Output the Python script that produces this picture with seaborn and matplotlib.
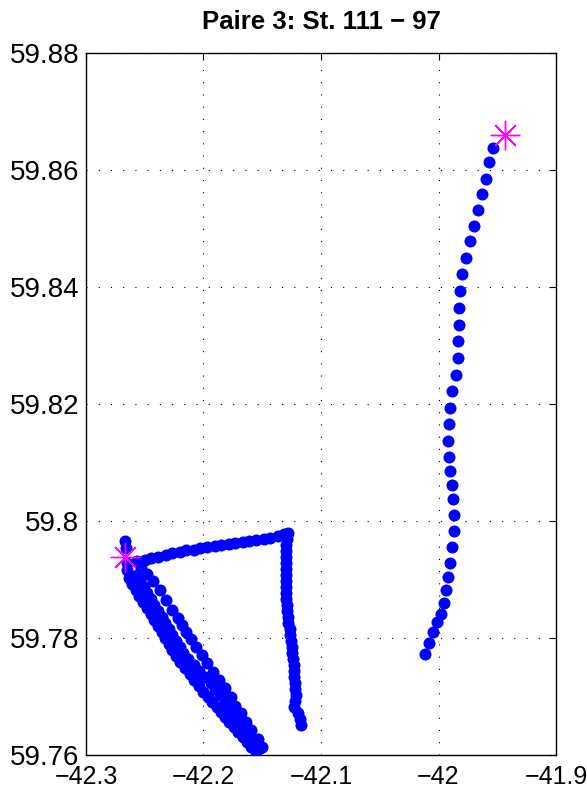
import numpy as np
import pandas as pd
import matplotlib
matplotlib.use("Agg")
import matplotlib.pyplot as plt
import seaborn as sns

# ---- data (lon, lat) ----
# east track, station 97 side
east_lon = [-41.9532, -41.9572, -41.9600, -41.9634, -41.9668, -41.9700, -41.9736, -41.9768,
            -41.9802, -41.9821, -41.9827, -41.9827, -41.9830, -41.9838, -41.9855, -41.9883,
            -41.9900, -41.9912, -41.9917, -41.9912, -41.9898, -41.9883, -41.9875, -41.9872,
            -41.9872, -41.9883, -41.9898, -41.9915, -41.9932, -41.9949, -41.9980, -42.0011,
            -42.0049, -42.0083, -42.0119]
east_lat = [59.8638, 59.8613, 59.8585, 59.8559, 59.8532, 59.8504, 59.8478, 59.8450,
            59.8422, 59.8394, 59.8364, 59.8335, 59.8307, 59.8279, 59.8250, 59.8222,
            59.8194, 59.8165, 59.8137, 59.8109, 59.8086, 59.8062, 59.8037, 59.8011,
            59.7983, 59.7955, 59.7929, 59.7905, 59.7882, 59.7860, 59.7841, 59.7827,
            59.7811, 59.7791, 59.7773]

# west loop near station 111: start points around the star
start_lon = [-42.2668, -42.2660, -42.2655, -42.2647]
start_lat = [59.7966, 59.7954, 59.7928, 59.7916]

# leg going east along the top
top_lon = [-42.2562, -42.2502, -42.2443, -42.2383, -42.2323, -42.2264, -42.2204, -42.2145,
           -42.2085, -42.2026, -42.1966, -42.1906, -42.1847, -42.1787, -42.1728, -42.1668,
           -42.1609, -42.1549, -42.1489, -42.1430, -42.1370, -42.1311, -42.1285]
top_lat = [59.7932, 59.7934, 59.7937, 59.7939, 59.7942, 59.7945, 59.7947, 59.7950,
           59.7951, 59.7954, 59.7956, 59.7957, 59.7959, 59.7961, 59.7962, 59.7964,
           59.7966, 59.7967, 59.7969, 59.7971, 59.7974, 59.7978, 59.7980]

# leg going south on the east side of the loop
south_lon = [-42.1289, -42.1294, -42.1298, -42.1302, -42.1302, -42.1302, -42.1302, -42.1302,
             -42.1302, -42.1300, -42.1295, -42.1291, -42.1288, -42.1283, -42.1277, -42.1268,
             -42.1260, -42.1254, -42.1249, -42.1244, -42.1239, -42.1234, -42.1231, -42.1227,
             -42.1224, -42.1220, -42.1217, -42.1221, -42.1226, -42.1196, -42.1175, -42.1166]
south_lat = [59.7969, 59.7959, 59.7949, 59.7939, 59.7928, 59.7918, 59.7908, 59.7897,
             59.7887, 59.7877, 59.7867, 59.7856, 59.7846, 59.7836, 59.7826, 59.7815,
             59.7805, 59.7795, 59.7785, 59.7774, 59.7764, 59.7754, 59.7744, 59.7733,
             59.7723, 59.7713, 59.7703, 59.7692, 59.7682, 59.7672, 59.7662, 59.7651]

# diagonal legs (south-east from the star)
diag1_lon = [-42.2536, -42.2485, -42.2434, -42.2374, -42.2319, -42.2264, -42.2221, -42.2183,
             -42.2145, -42.2106, -42.2064, -42.2017, -42.1966, -42.1915, -42.1864, -42.1821,
             -42.1770, -42.1728, -42.1685, -42.1638, -42.1592, -42.1540, -42.1498]
diag1_lat = [59.7920, 59.7909, 59.7897, 59.7882, 59.7865, 59.7848, 59.7834, 59.7822,
             59.7810, 59.7798, 59.7785, 59.7771, 59.7757, 59.7742, 59.7728, 59.7714,
             59.7699, 59.7684, 59.7671, 59.7656, 59.7643, 59.7627, 59.7613]

diag2_lon = [-42.2638, -42.2607, -42.2576, -42.2545, -42.2513, -42.2483, -42.2451, -42.2420,
             -42.2389, -42.2357, -42.2327, -42.2295, -42.2264, -42.2233, -42.2196, -42.2157,
             -42.2119, -42.2080, -42.2041, -42.2002, -42.1962, -42.1925, -42.1889, -42.1852,
             -42.1815, -42.1779, -42.1741, -42.1705, -42.1668, -42.1632, -42.1595, -42.1557]
diag2_lat = [59.7903, 59.7892, 59.7882, 59.7872, 59.7862, 59.7851, 59.7841, 59.7831,
             59.7821, 59.7810, 59.7800, 59.7790, 59.7780, 59.7769, 59.7759, 59.7749,
             59.7738, 59.7728, 59.7718, 59.7708, 59.7699, 59.7691, 59.7682, 59.7674,
             59.7665, 59.7656, 59.7648, 59.7639, 59.7631, 59.7622, 59.7614, 59.7605]

diag3_lon = [-42.2570, -42.2540, -42.2509, -42.2478, -42.2448, -42.2417, -42.2386, -42.2356,
             -42.2325, -42.2294, -42.2264, -42.2233, -42.2203, -42.2172, -42.2130, -42.2083,
             -42.2035, -42.1987, -42.1940, -42.1898, -42.1860, -42.1821, -42.1784, -42.1746,
             -42.1707, -42.1669, -42.1631, -42.1593, -42.1555, -42.1523]
diag3_lat = [59.7908, 59.7897, 59.7887, 59.7877, 59.7867, 59.7856, 59.7846, 59.7836,
             59.7826, 59.7815, 59.7805, 59.7795, 59.7785, 59.7774, 59.7764, 59.7754,
             59.7744, 59.7733, 59.7723, 59.7713, 59.7703, 59.7692, 59.7682, 59.7672,
             59.7662, 59.7651, 59.7641, 59.7631, 59.7621, 59.7612]

# station positions (stars)
st_lon = [-42.2672, -41.9430]
st_lat = [59.7939, 59.8660]

x_ticks = [-42.3, -42.2, -42.1, -42.0, -41.9]
x_labels = ["\u221242.3", "\u221242.2", "\u221242.1", "\u221242", "\u221241.9"]
y_ticks = [59.76, 59.78, 59.80, 59.82, 59.84, 59.86, 59.88]
y_labels = ["59.76", "59.78", "59.8", "59.82", "59.84", "59.86", "59.88"]

# ---- build one table ----
lon = east_lon + start_lon + top_lon + south_lon + diag1_lon + diag2_lon + diag3_lon
lat = east_lat + start_lat + top_lat + south_lat + diag1_lat + diag2_lat + diag3_lat
df = pd.DataFrame({"lon": lon, "lat": lat})
st = pd.DataFrame({"lon": st_lon, "lat": st_lat})

sns.set_style("white")
plt.rcParams["font.family"] = ["Liberation Sans", "DejaVu Sans"]
plt.rcParams["xtick.direction"] = "in"
plt.rcParams["ytick.direction"] = "in"
plt.rcParams["text.color"] = "black"
plt.rcParams["xtick.color"] = "black"
plt.rcParams["ytick.color"] = "black"

fig = plt.figure(figsize=(5.87, 7.92), dpi=100)
ax = fig.add_axes([0.1465, 0.0467, 0.8007, 0.8864])

sns.scatterplot(data=df, x="lon", y="lat", ax=ax, color=(0, 0, 1), s=75,
                linewidth=0, zorder=3)
sns.scatterplot(data=st, x="lon", y="lat", ax=ax, marker=(8, 2, 0), s=420,
                color="#ff00ff", edgecolor="#ff00ff", linewidth=1.0, zorder=4)

ax.set_xlim(-42.3, -41.9)
ax.set_ylim(59.76, 59.88)
ax.set_xticks(x_ticks)
ax.set_xticklabels(x_labels)
ax.set_yticks(y_ticks)
ax.set_yticklabels(y_labels)
ax.set_xlabel("")
ax.set_ylabel("")
ax.tick_params(labelsize=20, length=5, width=0.8, top=True, right=True, color="black")
ax.tick_params(axis="x", pad=7, labelsize=18)
ax.tick_params(axis="y", pad=5)
ax.grid(True, color="black", linestyle=(0, (1, 10)), linewidth=0.8)
for s in ax.spines.values():
    s.set_visible(True)
    s.set_color("black")
    s.set_linewidth(1.0)

ax.set_title("Paire 3: St. 111 \u2212 97", fontsize=18.5, fontweight="bold", pad=17,
             color="black")

fig.savefig("out.png", dpi=100)
